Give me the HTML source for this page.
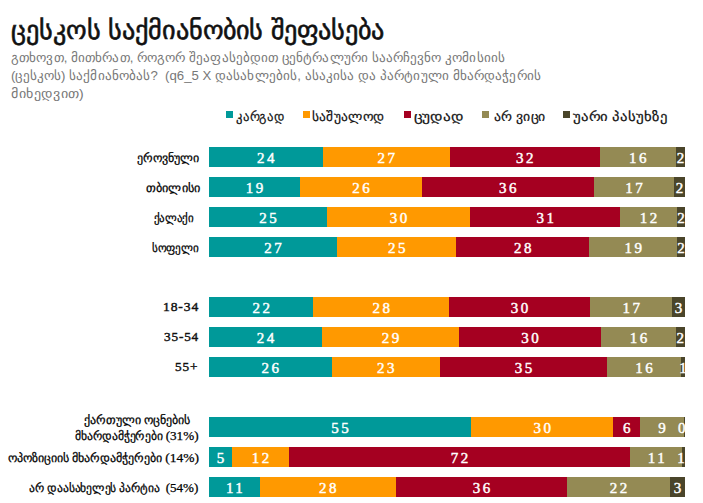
<!DOCTYPE html><html><head><meta charset="utf-8"><style>
html,body{margin:0;padding:0;background:#fff;width:703px;height:503px;overflow:hidden;position:relative}
body{font-family:"Liberation Serif",serif}
.t{position:absolute;white-space:pre;line-height:1;transform-origin:0 0}
.title{font-size:26px;color:#111;-webkit-text-stroke:0.6px #111;font-family:"Liberation Sans",sans-serif}
.sub{font-size:13px;color:#777;font-family:"Liberation Sans",sans-serif}
.sq{position:absolute;width:7px;height:7px;top:111px}
.lg{font-size:13px;color:#111;-webkit-text-stroke:0.2px #111;font-family:"Liberation Sans",sans-serif}
.bar{position:absolute;height:20px;overflow:hidden}
.seg{position:absolute;top:0;height:20px}
.num{position:absolute;width:60px;color:#fff;font-size:15px;-webkit-text-stroke:0.45px #fff;line-height:20px;text-align:center;letter-spacing:2.5px;text-indent:2.5px;white-space:nowrap;font-family:"Liberation Serif",serif}
.lab{font-size:12px;color:#000;-webkit-text-stroke:0.25px #000;font-family:"Liberation Serif",serif}
.labd{font-size:12.5px;color:#111;-webkit-text-stroke:0.4px #111;letter-spacing:0.8px;font-family:"Liberation Serif",serif}
</style></head><body>
<div class="sq" style="left:226px;background:#009999"></div>
<div class="sq" style="left:303px;background:#ff9900"></div>
<div class="sq" style="left:404px;background:#a50021"></div>
<div class="sq" style="left:482px;background:#948a54"></div>
<div class="sq" style="left:563px;background:#4a452a"></div>
<div class="bar" style="left:209px;top:147px;width:475.80px">
<div class="seg" style="left:0.00px;width:113.50px;background:#009999"></div>
<div class="seg" style="left:113.50px;width:127.50px;background:#ff9900"></div>
<div class="seg" style="left:241.00px;width:149.50px;background:#a50021"></div>
<div class="seg" style="left:390.50px;width:76.70px;background:#948a54"></div>
<div class="seg" style="left:467.20px;width:8.60px;background:#4a452a"></div>
<div class="num" style="left:26.75px;top:1px">24</div>
<div class="num" style="left:147.25px;top:1px">27</div>
<div class="num" style="left:285.75px;top:1px">32</div>
<div class="num" style="left:398.85px;top:1px">16</div>
<div class="num" style="left:441.50px;top:1px">2</div>
</div>
<div class="bar" style="left:209px;top:177px;width:475.80px">
<div class="seg" style="left:0.00px;width:90.90px;background:#009999"></div>
<div class="seg" style="left:90.90px;width:122.00px;background:#ff9900"></div>
<div class="seg" style="left:212.90px;width:171.90px;background:#a50021"></div>
<div class="seg" style="left:384.80px;width:80.30px;background:#948a54"></div>
<div class="seg" style="left:465.10px;width:10.70px;background:#4a452a"></div>
<div class="num" style="left:15.45px;top:1px">19</div>
<div class="num" style="left:121.90px;top:1px">26</div>
<div class="num" style="left:268.85px;top:1px">36</div>
<div class="num" style="left:394.95px;top:1px">17</div>
<div class="num" style="left:440.45px;top:1px">2</div>
</div>
<div class="bar" style="left:209px;top:207px;width:475.80px">
<div class="seg" style="left:0.00px;width:117.90px;background:#009999"></div>
<div class="seg" style="left:117.90px;width:143.40px;background:#ff9900"></div>
<div class="seg" style="left:261.30px;width:149.70px;background:#a50021"></div>
<div class="seg" style="left:411.00px;width:57.10px;background:#948a54"></div>
<div class="seg" style="left:468.10px;width:7.70px;background:#4a452a"></div>
<div class="num" style="left:28.95px;top:1px">25</div>
<div class="num" style="left:159.60px;top:1px">30</div>
<div class="num" style="left:306.15px;top:1px">31</div>
<div class="num" style="left:409.55px;top:1px">12</div>
<div class="num" style="left:441.95px;top:1px">2</div>
</div>
<div class="bar" style="left:209px;top:237px;width:475.80px">
<div class="seg" style="left:0.00px;width:127.90px;background:#009999"></div>
<div class="seg" style="left:127.90px;width:119.50px;background:#ff9900"></div>
<div class="seg" style="left:247.40px;width:132.80px;background:#a50021"></div>
<div class="seg" style="left:380.20px;width:88.10px;background:#948a54"></div>
<div class="seg" style="left:468.30px;width:7.50px;background:#4a452a"></div>
<div class="num" style="left:33.95px;top:1px">27</div>
<div class="num" style="left:157.65px;top:1px">25</div>
<div class="num" style="left:283.80px;top:1px">28</div>
<div class="num" style="left:394.25px;top:1px">19</div>
<div class="num" style="left:442.05px;top:1px">2</div>
</div>
<div class="bar" style="left:209px;top:297px;width:475.80px">
<div class="seg" style="left:0.00px;width:104.30px;background:#009999"></div>
<div class="seg" style="left:104.30px;width:135.70px;background:#ff9900"></div>
<div class="seg" style="left:240.00px;width:141.20px;background:#a50021"></div>
<div class="seg" style="left:381.20px;width:82.00px;background:#948a54"></div>
<div class="seg" style="left:463.20px;width:12.60px;background:#4a452a"></div>
<div class="num" style="left:22.15px;top:1px">22</div>
<div class="num" style="left:142.15px;top:1px">28</div>
<div class="num" style="left:280.60px;top:1px">30</div>
<div class="num" style="left:392.20px;top:1px">17</div>
<div class="num" style="left:439.50px;top:1px">3</div>
</div>
<div class="bar" style="left:209px;top:327px;width:475.80px">
<div class="seg" style="left:0.00px;width:113.00px;background:#009999"></div>
<div class="seg" style="left:113.00px;width:136.80px;background:#ff9900"></div>
<div class="seg" style="left:249.80px;width:142.30px;background:#a50021"></div>
<div class="seg" style="left:392.10px;width:74.70px;background:#948a54"></div>
<div class="seg" style="left:466.80px;width:9.00px;background:#4a452a"></div>
<div class="num" style="left:26.50px;top:1px">24</div>
<div class="num" style="left:151.40px;top:1px">29</div>
<div class="num" style="left:290.95px;top:1px">30</div>
<div class="num" style="left:399.45px;top:1px">16</div>
<div class="num" style="left:441.30px;top:1px">2</div>
</div>
<div class="bar" style="left:209px;top:357px;width:475.80px">
<div class="seg" style="left:0.00px;width:122.70px;background:#009999"></div>
<div class="seg" style="left:122.70px;width:108.30px;background:#ff9900"></div>
<div class="seg" style="left:231.00px;width:167.00px;background:#a50021"></div>
<div class="seg" style="left:398.00px;width:74.20px;background:#948a54"></div>
<div class="seg" style="left:472.20px;width:3.60px;background:#4a452a"></div>
<div class="num" style="left:31.35px;top:1px">26</div>
<div class="num" style="left:146.85px;top:1px">23</div>
<div class="num" style="left:284.50px;top:1px">35</div>
<div class="num" style="left:405.10px;top:1px">16</div>
<div class="num" style="left:444.00px;top:1px">1</div>
</div>
<div class="bar" style="left:209px;top:417px;width:475.80px">
<div class="seg" style="left:0.00px;width:262.20px;background:#009999"></div>
<div class="seg" style="left:262.20px;width:142.20px;background:#ff9900"></div>
<div class="seg" style="left:404.40px;width:26.60px;background:#a50021"></div>
<div class="seg" style="left:431.00px;width:43.80px;background:#948a54"></div>
<div class="seg" style="left:474.80px;width:1.00px;background:#4a452a"></div>
<div class="num" style="left:101.10px;top:1px">55</div>
<div class="num" style="left:303.30px;top:1px">30</div>
<div class="num" style="left:387.70px;top:1px">6</div>
<div class="num" style="left:422.90px;top:1px">9</div>
<div class="num" style="left:442.80px;top:1px">0</div>
</div>
<div class="bar" style="left:209px;top:447px;width:475.80px">
<div class="seg" style="left:0.00px;width:23.00px;background:#009999"></div>
<div class="seg" style="left:23.00px;width:56.90px;background:#ff9900"></div>
<div class="seg" style="left:79.90px;width:341.30px;background:#a50021"></div>
<div class="seg" style="left:421.20px;width:52.10px;background:#948a54"></div>
<div class="seg" style="left:473.30px;width:2.50px;background:#4a452a"></div>
<div class="num" style="left:-18.50px;top:1px">5</div>
<div class="num" style="left:21.45px;top:1px">12</div>
<div class="num" style="left:220.55px;top:1px">72</div>
<div class="num" style="left:417.25px;top:1px">11</div>
<div class="num" style="left:442.05px;top:1px">1</div>
</div>
<div class="bar" style="left:209px;top:477px;width:475.80px">
<div class="seg" style="left:0.00px;width:50.70px;background:#009999"></div>
<div class="seg" style="left:50.70px;width:136.10px;background:#ff9900"></div>
<div class="seg" style="left:186.80px;width:171.30px;background:#a50021"></div>
<div class="seg" style="left:358.10px;width:103.00px;background:#948a54"></div>
<div class="seg" style="left:461.10px;width:14.70px;background:#4a452a"></div>
<div class="num" style="left:-4.65px;top:1px">11</div>
<div class="num" style="left:88.75px;top:1px">28</div>
<div class="num" style="left:242.45px;top:1px">36</div>
<div class="num" style="left:379.60px;top:1px">22</div>
<div class="num" style="left:438.45px;top:1px">3</div>
</div>
<div class="t title" style="left:11.49px;top:17px;transform:scaleX(1.0081)">ცესკოს საქმიანობის შეფასება</div>
<div class="t sub" style="left:10.99px;top:51px;transform:scaleX(1.0123)">გთხოვთ, მითხრათ, როგორ შეაფასებდით ცენტრალური საარჩევნო კომისიის</div>
<div class="t sub" style="left:10.98px;top:69px;transform:scaleX(1.0154)">(ცესკოს) საქმიანობას?  (q6_5 X დასახლების, ასაკისა და პარტიული მხარდაჭერის</div>
<div class="t sub" style="left:10.92px;top:87px;transform:scaleX(1.0789)">მიხედვით)</div>
<div class="t lg" style="left:235.80px;top:110px;transform:scaleX(0.9757)">კარგად</div>
<div class="t lg" style="left:312.40px;top:110px;transform:scaleX(1.0349)">საშუალოდ</div>
<div class="t lg" style="left:414.00px;top:110px;transform:scaleX(1.1715)">ცუდად</div>
<div class="t lg" style="left:493.78px;top:110px;transform:scaleX(1.0583)">არ ვიცი</div>
<div class="t lg" style="left:573.00px;top:110px;transform:scaleX(1.1325)">უარი პასუხზე</div>
<div class="t lab" style="left:136.80px;top:152px;transform:scaleX(1.0032)">ეროვნული</div>
<div class="t lab" style="left:146.00px;top:182px;transform:scaleX(1.0189)">თბილისი</div>
<div class="t lab" style="left:154.42px;top:212px;transform:scaleX(0.9166)">ქალაქი</div>
<div class="t lab" style="left:152.18px;top:242px;transform:scaleX(0.9322)">სოფელი</div>
<div class="t labd" style="left:162.76px;top:301px;transform:scaleX(1.0876)">18-34</div>
<div class="t labd" style="left:163.77px;top:331px;transform:scaleX(1.0566)">35-54</div>
<div class="t labd" style="left:175.16px;top:361px;transform:scaleX(1.0575)">55+</div>
<div class="t lab" style="left:83.80px;top:414px;transform:scaleX(1.0019)">ქართული ოცნების</div>
<div class="t lab" style="left:75.10px;top:429px;transform:scaleX(0.9747)">მხარდამჭერები <span style="font-size:13.5px">(31%)</span></div>
<div class="t lab" style="left:7.50px;top:451px;transform:scaleX(1.0011)">ოპოზიციის მხარდამჭერები <span style="font-size:13.5px">(14%)</span></div>
<div class="t lab" style="left:28.89px;top:481px;transform:scaleX(0.9691)">არ დაასახელეს პარტია  <span style="font-size:13.5px">(54%)</span></div>
</body></html>
